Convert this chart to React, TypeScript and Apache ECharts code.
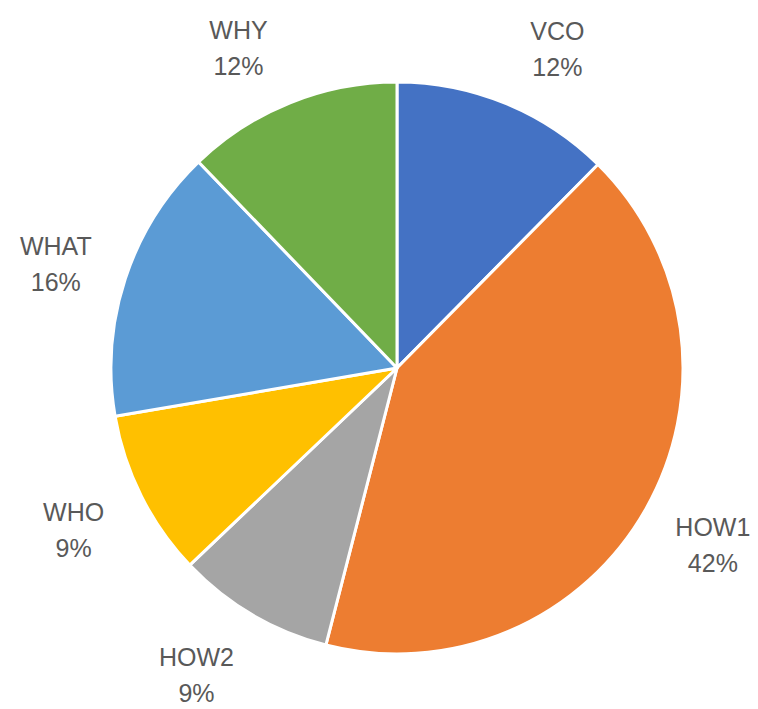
import React, { useEffect, useRef } from "react";
import * as echarts from "echarts";

const categories = ["VCO", "HOW1", "HOW2", "WHO", "WHAT", "WHY"];
const values = [12.4, 41.6, 8.9, 9.4, 15.5, 12.2];
const colors = ["#4472C4", "#ED7D31", "#A5A5A5", "#FFC000", "#5B9BD5", "#70AD47"];

const CX = 397;
const CY = 368;
const R = 286;
const LABEL_RX = 357;
const LABEL_RY = 350;
const LABEL_PUSH = 40;
const LABEL_DY = 5;

export default function App() {
  const ref = useRef<HTMLDivElement>(null);
  useEffect(() => {
    if (!ref.current) return;
    const chart = echarts.init(ref.current, undefined, { renderer: "svg" });
    const total = values.reduce((a, b) => a + b, 0);
    const mids: number[] = [];
    let acc = 0;
    values.forEach((v) => {
      mids.push(((acc + v / 2) / total) * 2 * Math.PI);
      acc += v;
    });
    chart.setOption({
      animation: false,
      backgroundColor: "#ffffff",
      series: [
        {
          type: "pie",
          center: [CX, CY],
          radius: [0, R],
          startAngle: 90,
          clockwise: true,
          data: categories.map((c, i) => ({
            name: c,
            value: values[i],
            itemStyle: { color: colors[i] },
          })),
          itemStyle: { borderColor: "#ffffff", borderWidth: 3 },
          label: {
            show: true,
            position: "outside",
            formatter: (p: any) => `${p.name}\n${Math.round(p.percent)}%`,
            color: "#595959",
            fontSize: 25,
            lineHeight: 36,
            fontFamily: "Liberation Sans",
            align: "center",
            overflow: "none",
          },
          labelLine: { show: false },
          labelLayout: (p: any) => {
            const a = mids[p.dataIndex];
            const s = Math.sin(a);
            const c = Math.cos(a);
            return {
              x: CX + LABEL_RX * s + LABEL_PUSH * Math.sign(s) * (1 - Math.abs(s)),
              y: CY + LABEL_DY - LABEL_RY * c,
              align: "center",
              verticalAlign: "middle",
              hideOverlap: false,
            };
          },
          emphasis: { disabled: true },
        },
      ],
    });
    return () => chart.dispose();
  }, []);
  return (
    <div
      ref={ref}
      style={{ position: "absolute", left: 0, top: 0, width: 758, height: 709 }}
    />
  );
}
